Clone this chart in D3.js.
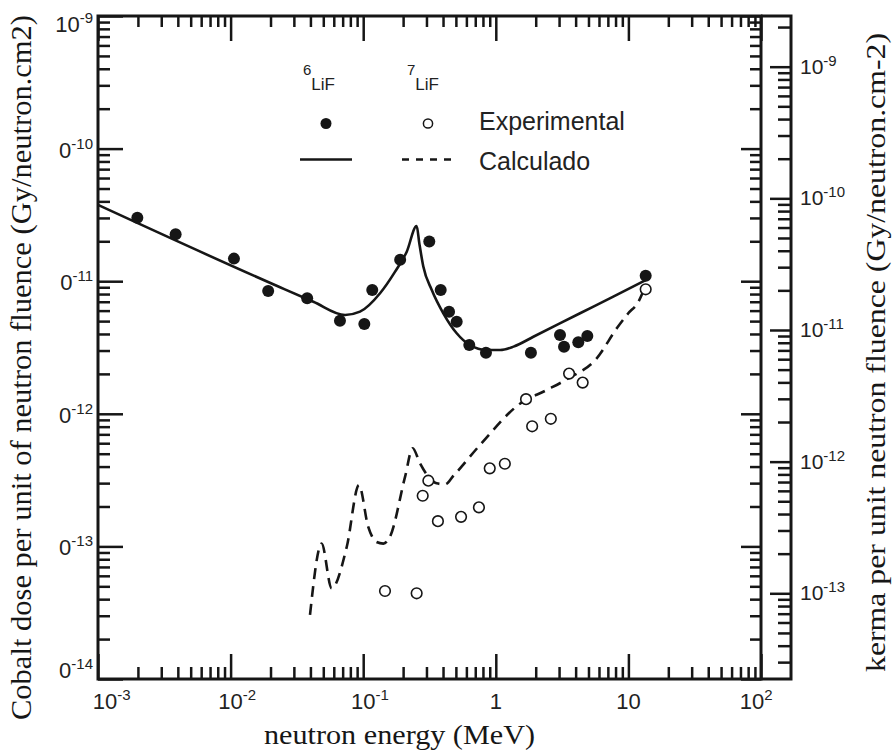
<!DOCTYPE html>
<html>
<head>
<meta charset="utf-8">
<script src="https://cdn.jsdelivr.net/npm/d3@7"></script>
<style>
  body { margin: 0; background: #fff; }
</style>
</head>
<body>
<script>
// values: energy in MeV, dose per fluence in Gy.cm2
const li6Energy = [0.00198, 0.00385, 0.0106, 0.0192, 0.0378, 0.0668, 0.102, 0.117, 0.190, 0.315,
  0.384, 0.444, 0.507, 0.631, 0.843, 1.84, 3.05, 3.27, 4.19, 4.90, 13.5]
const li6Dose = [3.01e-11, 2.26e-11, 1.48e-11, 8.43e-12, 7.43e-12, 5.04e-12, 4.75e-12, 8.59e-12, 1.45e-11, 1.99e-11,
  8.59e-12, 5.89e-12, 4.95e-12, 3.30e-12, 2.89e-12, 2.89e-12, 3.93e-12, 3.21e-12, 3.46e-12, 3.86e-12, 1.10e-11]

const li7Energy = [0.146, 0.253, 0.281, 0.310, 0.366, 0.547, 0.746, 0.900, 1.17, 1.69, 1.88, 2.60, 3.57, 4.52, 13.5]
const li7Dose = [4.61e-14, 4.43e-14, 2.41e-13, 3.13e-13, 1.55e-13, 1.67e-13, 1.97e-13, 3.88e-13, 4.20e-13, 1.29e-12,
  8.05e-13, 9.17e-13, 2.01e-12, 1.72e-12, 8.69e-12]

const calc6Energy = [0.001, 0.0236, 0.0421, 0.0730, 0.0946, 0.134, 0.174, 0.213, 0.253, 0.265, 0.284, 0.329,
  0.402, 0.507, 0.638, 0.853, 1.08, 1.36, 1.92, 4.32, 7.69, 13.5]
const calc6Dose = [3.76e-11, 9.0e-12, 7.0e-12, 5.56e-12, 5.89e-12, 8.11e-12, 1.18e-11, 1.67e-11, 2.61e-11, 1.93e-11, 1.29e-11, 8.59e-12,
  5.73e-12, 4.05e-12, 3.30e-12, 3.03e-12, 3.03e-12, 3.21e-12, 3.81e-12, 5.73e-12, 7.64e-12, 1.02e-11]

const calc7Energy = [0.0397, 0.0486, 0.0578, 0.0752, 0.0929, 0.109, 0.126, 0.142, 0.159, 0.207, 0.236, 0.268,
  0.310, 0.358, 0.414, 0.479, 0.760, 1.52, 2.42, 3.43, 5.77, 8.20, 9.98, 11.9, 12.9]
const calc7Dose = [3.04e-14, 1.05e-13, 4.83e-14, 9.95e-14, 2.90e-13, 1.41e-13, 1.08e-13, 1.05e-13, 1.18e-13, 3.36e-13, 5.50e-13, 4.24e-13,
  3.36e-13, 2.99e-13, 2.94e-13, 3.41e-13, 5.82e-13, 1.19e-12, 1.51e-12, 1.82e-12, 2.62e-12, 4.44e-12, 5.73e-12, 7.0e-12, 8.33e-12]

const xTickValues = [1e-3, 1e-2, 1e-1, 1, 10, 100]
const xTickLabels = [['10', '-3'], ['10', '-2'], ['10', '-1'], ['1', ''], ['10', ''], ['10', '2']]
const leftTickValues = [1e-9, 1e-10, 1e-11, 1e-12, 1e-13, 1e-14]
const leftTickLabels = [['10', '-9'], ['0', '-10'], ['0', '-11'], ['0', '-12'], ['0', '-13'], ['0', '-14']]
const rightTickValues = [1e-9, 1e-10, 1e-11, 1e-12, 1e-13]
const rightTickLabels = [['10', '-9'], ['10', '-10'], ['10', '-11'], ['10', '-12'], ['10', '-13']]

const legendSeries = ['6', '7']
const legendRows = ['Experimental', 'Calculado']

const overallWidth = 894
const overallHeight = 751
const box = { left: 98, top: 16, right: 761, bottom: 679 }
const axis2X = 791
const ink = '#161616'
const sans = '"Liberation Sans", Arial, sans-serif'
const serif = '"Liberation Serif", "Times New Roman", serif'

const svg = d3.select('body').append('svg')
  .attr('width', overallWidth)
  .attr('height', overallHeight)
  .attr('xmlns', 'http://www.w3.org/2000/svg')

const x = d3.scaleLog().domain([1e-3, 1e2]).range([box.left, box.right])
const y = d3.scaleLog().domain([1e-14, 1e-9]).range([box.bottom, box.top])
// second (kerma) scale sits ~50px lower than the dose scale
const y2 = d3.scaleLog().domain([Math.pow(10, -13.651), Math.pow(10, -8.615)]).range([box.bottom, box.top])

const isDecade = v => Math.abs(Math.log10(v) - Math.round(Math.log10(v))) < 1e-6

function ticks (g, axisFn, scale, majorLen, minorLen) {
  const all = scale.ticks()
  g.append('g')
    .call(axisFn(scale).tickValues(all.filter(v => !isDecade(v))).tickSizeInner(-minorLen).tickSizeOuter(0).tickFormat(''))
  g.append('g')
    .call(axisFn(scale).tickValues(all.filter(isDecade)).tickSizeInner(-majorLen).tickSizeOuter(0).tickFormat(''))
  g.selectAll('.domain').remove()
  g.selectAll('.tick line').attr('stroke', ink).attr('stroke-width', 2.5)
}

ticks(svg.append('g').attr('transform', `translate(0,${box.bottom})`), d3.axisBottom, x, 25, 12)
ticks(svg.append('g').attr('transform', `translate(0,${box.top})`), d3.axisTop, x, 25, 11)
ticks(svg.append('g').attr('transform', `translate(${box.left},0)`), d3.axisLeft, y, 25, 12)
ticks(svg.append('g').attr('transform', `translate(${box.right},0)`), d3.axisRight, y, 20, 11)
ticks(svg.append('g').attr('transform', `translate(${axis2X},0)`), d3.axisRight, y2, 21, 13)

svg.append('rect')
  .attr('x', box.left).attr('y', box.top)
  .attr('width', box.right - box.left).attr('height', box.bottom - box.top)
  .attr('fill', 'none').attr('stroke', ink).attr('stroke-width', 3)

svg.append('path')
  .attr('d', `M${box.right},${box.top}H${axis2X}V${box.bottom}H${box.right}`)
  .attr('fill', 'none').attr('stroke', ink).attr('stroke-width', 3)

// tick labels with superscript exponents
function label (px, py, pair, anchor, size, supSize, rise) {
  const t = svg.append('text')
    .attr('x', px).attr('y', py)
    .attr('text-anchor', anchor)
    .style('font-family', sans)
    .style('font-size', size + 'px')
    .attr('fill', '#222')
  const base = t.append('tspan').text(pair[0])
  if (pair[1]) {
    t.append('tspan').text(pair[1]).attr('dy', -rise).style('font-size', supSize + 'px')
  }
  return { t, base }
}

xTickValues.forEach((v, i) => {
  const nudge = i === 0 ? 7 : (i === xTickValues.length - 1 ? -9 : 0)
  const l = label(0, 709, xTickLabels[i], 'start', 22, 15, 9)
  const w = l.base.node().getComputedTextLength()
  l.t.attr('x', x(v) - w / 2 + nudge)
})

leftTickValues.forEach((v, i) => {
  let py = y(v) + 9
  if (i === 0) py = 32
  if (i === leftTickValues.length - 1) py = 678
  label(93, py, leftTickLabels[i], 'end', 22, 15, 9)
})

rightTickValues.forEach((v, i) => {
  label(800, y2(v) + 7, rightTickLabels[i], 'start', 21, 15, 8)
})

// axis titles
svg.append('text')
  .attr('transform', 'translate(31,367.5) rotate(-90)')
  .attr('text-anchor', 'middle')
  .attr('textLength', 705)
  .attr('lengthAdjust', 'spacingAndGlyphs')
  .style('font-family', serif)
  .style('font-size', '29px')
  .attr('fill', ink)
  .text('Cobalt dose per unit of neutron fluence (Gy/neutron.cm2)')

svg.append('text')
  .attr('transform', 'translate(885,352.5) rotate(-90)')
  .attr('text-anchor', 'middle')
  .attr('textLength', 639)
  .attr('lengthAdjust', 'spacingAndGlyphs')
  .style('font-family', serif)
  .style('font-size', '27px')
  .attr('fill', ink)
  .text('kerma per unit neutron fluence (Gy/neutron.cm-2)')

svg.append('text')
  .attr('x', 399.5).attr('y', 744)
  .attr('text-anchor', 'middle')
  .attr('textLength', 271)
  .attr('lengthAdjust', 'spacingAndGlyphs')
  .style('font-family', serif)
  .style('font-size', '28px')
  .attr('fill', ink)
  .text('neutron energy (MeV)')

// curves
const line = d3.line()
  .x(d => x(d[0]))
  .y(d => y(d[1]))
  .curve(d3.curveMonotoneX)

svg.append('path')
  .attr('d', line(d3.zip(calc6Energy, calc6Dose)))
  .attr('fill', 'none')
  .attr('stroke', ink)
  .attr('stroke-width', 2.6)
  .attr('stroke-linejoin', 'round')

svg.append('path')
  .attr('d', line(d3.zip(calc7Energy, calc7Dose)))
  .attr('fill', 'none')
  .attr('stroke', ink)
  .attr('stroke-width', 2.6)
  .attr('stroke-dasharray', '11,7')

// points
svg.append('g')
  .selectAll('circle')
  .data(d3.zip(li6Energy, li6Dose))
  .join('circle')
  .attr('cx', d => x(d[0]))
  .attr('cy', d => y(d[1]))
  .attr('r', 6)
  .attr('fill', ink)

svg.append('g')
  .selectAll('circle')
  .data(d3.zip(li7Energy, li7Dose))
  .join('circle')
  .attr('cx', d => x(d[0]))
  .attr('cy', d => y(d[1]))
  .attr('r', 5.3)
  .attr('fill', '#fff')
  .attr('stroke', ink)
  .attr('stroke-width', 1.6)

// legend
const legendX = [303, 407]
legendSeries.forEach((s, i) => {
  const t = svg.append('text')
    .attr('x', legendX[i]).attr('y', 75)
    .style('font-family', sans)
    .attr('fill', '#222')
  t.append('tspan').text(s).style('font-size', '15px')
  t.append('tspan').text('LiF').attr('dy', 15).style('font-size', '17px')
})

svg.append('circle').attr('cx', 326).attr('cy', 123.5).attr('r', 5.5).attr('fill', ink)
svg.append('circle').attr('cx', 428).attr('cy', 123.5).attr('r', 4.6)
  .attr('fill', '#fff').attr('stroke', ink).attr('stroke-width', 1.5)

svg.append('line').attr('x1', 300).attr('x2', 352).attr('y1', 159.5).attr('y2', 159.5)
  .attr('stroke', ink).attr('stroke-width', 2.6)
svg.append('line').attr('x1', 402).attr('x2', 453).attr('y1', 159.5).attr('y2', 159.5)
  .attr('stroke', ink).attr('stroke-width', 2.6).attr('stroke-dasharray', '7,7')

legendRows.forEach((r, i) => {
  svg.append('text')
    .attr('x', 479).attr('y', [130, 170][i])
    .style('font-family', sans)
    .style('font-size', '25px')
    .attr('fill', '#222')
    .text(r)
})
</script>
</body>
</html>
